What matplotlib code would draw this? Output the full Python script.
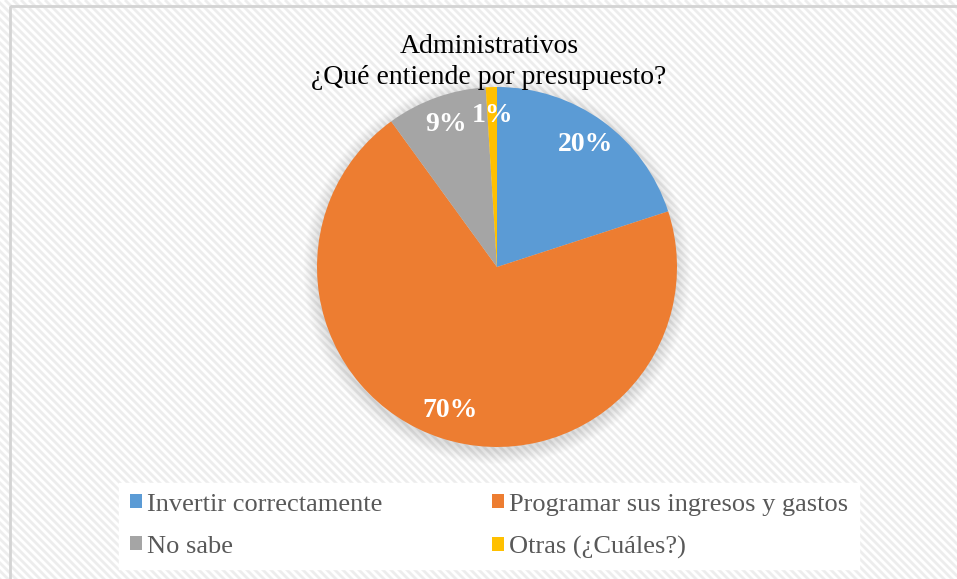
import matplotlib
matplotlib.use("Agg")
import matplotlib.pyplot as plt
from matplotlib.patches import Patch, Circle, Rectangle
import numpy as np

plt.rcParams['font.family'] = ['Liberation Serif', 'DejaVu Serif']

# Survey answers
categories = ["Invertir correctamente", "Programar sus ingresos y gastos",
              "No sabe", "Otras (¿Cuáles?)"]
shares = [20, 70, 9, 1]
colors = ["#5B9BD5", "#ED7D31", "#A5A5A5", "#FFC000"]
title_lines = ["Administrativos", "¿Qué entiende por presupuesto?"]

W, H = 957, 579
fig = plt.figure(figsize=(W / 100, H / 100), dpi=100)

# Striped chart-area background, drawn in pixel coordinates
bg = fig.add_axes([0, 0, 1, 1])
bg.set_xlim(0, W)
bg.set_ylim(H, 0)
bg.axis('off')
bg.add_patch(Rectangle((0, 0), W, H, color='white', zorder=0))
for c in np.arange(-H, W + H, 8):
    bg.plot([c, c + H + 50], [0, H + 50], color='#ededed', lw=2.0,
            solid_capstyle='butt', zorder=1)
bg.add_patch(Rectangle((10, 6), W, H, fill=False, ec='#d4d4d4', lw=2, zorder=2))

# Pie: centre (497, 267) px, radius 180 px
cx, cy, r = 497, 267, 180
ax = fig.add_axes([(cx - r) / W, (H - cy - r) / H, 2 * r / W, 2 * r / H])

# faint soft shadow, a little below the pie
for rad in np.linspace(1.075, 1.0, 16):
    ax.add_patch(Circle((0, -0.02), rad, color='black', alpha=0.009, lw=0,
                        zorder=0, clip_on=False))

wedges, texts, autotexts = ax.pie(
    shares, colors=colors, startangle=90, counterclock=False,
    autopct='%1.0f%%', pctdistance=0.84, radius=1.0,
    wedgeprops=dict(linewidth=0),
    textprops=dict(color='white', fontsize=20, fontweight='bold'))
ax.set_xlim(-1, 1)
ax.set_ylim(-1, 1)
ax.set_aspect('auto')
ax.axis('off')

fig.text(489 / W, 1 - 62 / H, "\n".join(title_lines), ha='center', va='center',
         fontsize=20, color='black', linespacing=1.3)

# Legend: two columns, read across the rows
order = [0, 2, 1, 3]
handles = [Patch(facecolor=colors[i], edgecolor='none') for i in order]
labels = [categories[i] for i in order]
leg = fig.legend(handles, labels, ncol=2, loc='upper left',
                 bbox_to_anchor=(119 / W, 1 - 483 / H),
                 frameon=True, fancybox=False, framealpha=1,
                 edgecolor='white', facecolor='white',
                 fontsize=19, handlelength=0.46, handleheight=0.46,
                 handletextpad=0.2, columnspacing=4.15, labelspacing=0.76,
                 borderpad=0.4, borderaxespad=0)
for t in leg.get_texts():
    t.set_color('#595959')

fig.savefig("out.png", dpi=100)
